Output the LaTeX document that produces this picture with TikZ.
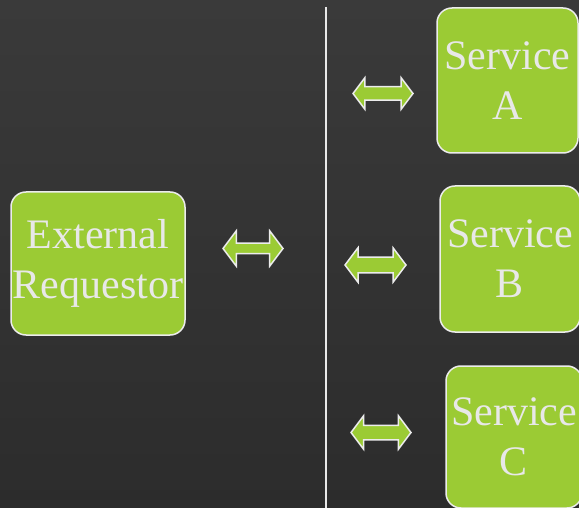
\documentclass[tikz,border=0pt]{standalone}
\usepackage{fontspec}
\setmainfont{Liberation Serif}
\usetikzlibrary{shapes.arrows}
\definecolor{boxgreen}{HTML}{9BCB34}
\definecolor{bgtop}{HTML}{3A3A3A}
\definecolor{bgbot}{HTML}{2C2C2C}
\definecolor{txt}{HTML}{E8E8E8}
\definecolor{edge}{HTML}{ECECEC}
\begin{document}
\begin{tikzpicture}[x=1pt,y=-1pt,
  svcbox/.style={draw=edge, line width=1.5pt, fill=boxgreen, rounded corners=15pt,
    inner sep=0pt, align=center, text=txt,
    font=\fontsize{42}{50}\selectfont},
  darr/.style={double arrow, draw=edge, line width=1.5pt, fill=boxgreen,
    inner xsep=0pt, double arrow tip angle=106},
]
\useasboundingbox (0,0) rectangle (579,508);
\shade[top color=bgtop, bottom color=bgbot] (0,0) rectangle (579,508);
% divider
\coordinate (vt) at (326,7);
\coordinate (vb) at (326,508);
\draw[line width=1.5pt, draw=white!82!gray] (vt) -- (vb);
% boxes
\node[svcbox, minimum width=174pt, minimum height=143pt] (ext) at (98,263.5) {External\\Requestor};
\node[svcbox, minimum width=141pt, minimum height=145pt] (sa) at (507.5,80.5) {Service\\A};
\node[svcbox, minimum width=140pt, minimum height=146pt] (sb) at (510,259) {Service\\B};
\node[svcbox, minimum width=136pt, minimum height=142pt] (sc) at (514,437) {Service\\C};
% block arrows
\node[darr, inner ysep=4.5pt, double arrow head extend=12.5pt, minimum height=60pt] (a0) at (253,248.5) {};
\node[darr, inner ysep=6pt, double arrow head extend=9pt, minimum height=60pt] (aa) at (383,93.5) {};
\node[darr, inner ysep=7pt, double arrow head extend=9.5pt, minimum height=61pt] (ab) at (375.5,265) {};
\node[darr, inner ysep=6.5pt, double arrow head extend=9.5pt, minimum height=60pt] (ac) at (381,432.5) {};
\end{tikzpicture}
\end{document}
